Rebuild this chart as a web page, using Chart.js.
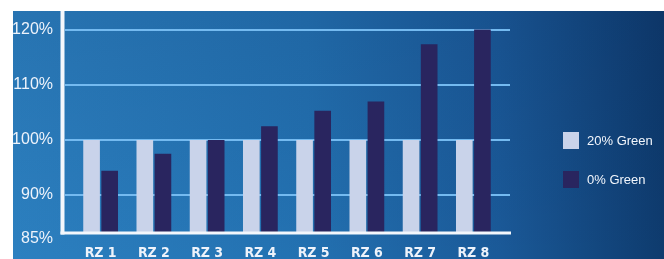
<!DOCTYPE html>
<html>
<head>
<meta charset="utf-8">
<script src="https://cdn.jsdelivr.net/npm/chart.js@4.4.1/dist/chart.umd.min.js"></script>
<style>
    html, body { margin: 0; padding: 0; background: #ffffff; }
    #wrap { position: absolute; left: 13px; top: 11px; width: 651px; height: 248px; }
</style>
</head>
<body>
<div id="wrap"><canvas id="zoneChart" width="651" height="248"></canvas></div>
<script>
const categories = ['RZ 1', 'RZ 2', 'RZ 3', 'RZ 4', 'RZ 5', 'RZ 6', 'RZ 7', 'RZ 8'];
const seriesNames = ['20% Green', '0% Green'];
const green20 = [100, 100, 100, 100, 100, 100, 100, 100];
const green0 = [94.4, 97.5, 100, 102.5, 105.3, 107, 117.4, 120.1];
const yTicks = [85, 90, 100, 110, 120];
const gridTicks = [90, 100, 110, 120];

const LIGHT = '#c9d3ea';
const DARK = '#29255f';

// y axis in the original is not linear at the bottom: "85%" sits on the axis line
const Y_MIN = 83.1;
const Y_MAX = 123.45;

const backdrop = {
    id: 'backdrop',
    beforeDraw(chart) {
        const { ctx, width, height } = chart;
        ctx.save();
        const g = ctx.createLinearGradient(0, 0, width, 0);
        g.addColorStop(0, '#2c80c0');
        g.addColorStop(0.45, '#2371b1');
        g.addColorStop(0.75, '#1a5998');
        g.addColorStop(1, '#0e3b6e');
        ctx.fillStyle = g;
        ctx.fillRect(0, 0, width, height);
        const v = ctx.createLinearGradient(0, 0, 0, height);
        v.addColorStop(0, 'rgba(0, 10, 50, 0.10)');
        v.addColorStop(1, 'rgba(0, 10, 50, 0)');
        ctx.fillStyle = v;
        ctx.fillRect(0, 0, width, height);
        ctx.restore();
    },
    beforeDatasetsDraw(chart) {
        const { ctx, chartArea } = chart;
        const y = chart.scales.y;
        ctx.save();
        ctx.strokeStyle = '#74baf0';
        ctx.lineWidth = 2;
        gridTicks.forEach(t => {
            const py = Math.round(y.getPixelForValue(t));
            ctx.beginPath();
            ctx.moveTo(chartArea.left - 9, py);
            ctx.lineTo(chartArea.right + 10, py);
            ctx.stroke();
        });
        ctx.restore();
    },
    afterDatasetsDraw(chart) {
        const { ctx, chartArea } = chart;
        ctx.save();
        ctx.strokeStyle = '#f4f7fc';
        ctx.lineWidth = 4;
        ctx.beginPath();
        ctx.moveTo(chartArea.left - 11.5, chartArea.top);
        ctx.lineTo(chartArea.left - 11.5, chartArea.bottom + 1.5);
        ctx.stroke();
        ctx.lineWidth = 3;
        ctx.beginPath();
        ctx.moveTo(chartArea.left - 13.5, chartArea.bottom);
        ctx.lineTo(chartArea.right + 11, chartArea.bottom);
        ctx.stroke();

        // legend
        const lx = chartArea.right + 63;
        const rows = [chartArea.top + 130, chartArea.top + 169];
        ctx.font = '13px "Liberation Sans", Arial, sans-serif';
        ctx.textBaseline = 'middle';
        chart.data.datasets.forEach((ds, i) => {
            ctx.fillStyle = ds.backgroundColor;
            ctx.fillRect(lx, rows[i] - 9, 16, 17);
            ctx.fillStyle = '#f2f6fc';
            ctx.fillText(ds.label, lx + 24, rows[i]);
        });
        ctx.restore();
    }
};

new Chart(document.getElementById('zoneChart'), {
    type: 'bar',
    data: {
        labels: categories,
        datasets: [
            { label: seriesNames[0], data: green20, backgroundColor: LIGHT, borderWidth: 0 },
            { label: seriesNames[1], data: green0, backgroundColor: DARK, borderWidth: 0 }
        ]
    },
    options: {
        responsive: false,
        animation: false,
        devicePixelRatio: 1,
        layout: { padding: { left: 0, right: 164, top: 0, bottom: 0 } },
        datasets: {
            bar: { categoryPercentage: 0.68, barPercentage: 0.92 }
        },
        plugins: {
            legend: { display: false },
            tooltip: { enabled: false }
        },
        scales: {
            x: {
                grid: { display: false, drawTicks: false },
                border: { display: false },
                ticks: {
                    color: '#eef3fb',
                    padding: 12,
                    font: { family: '"DejaVu Sans Condensed", sans-serif', size: 14, weight: 'bold' }
                },
                afterFit(scale) { scale.height = 26; scale.paddingLeft = 0; scale.paddingRight = 0; }
            },
            y: {
                min: Y_MIN,
                max: Y_MAX,
                grid: { display: false, drawTicks: false },
                border: { display: false },
                afterBuildTicks(scale) {
                    scale.ticks = yTicks.map(v => ({ value: v < 90 ? Y_MIN - 1 : v }));
                },
                ticks: {
                    color: '#eef3fb',
                    padding: 21,
                    font: { family: '"Liberation Sans", Arial, sans-serif', size: 16 },
                    callback: (v, i) => yTicks[i] + '%'
                },
                afterFit(scale) { scale.width = 61; scale.paddingTop = 0; scale.paddingBottom = 0; }
            }
        }
    },
    plugins: [backdrop]
});
</script>
</body>
</html>
